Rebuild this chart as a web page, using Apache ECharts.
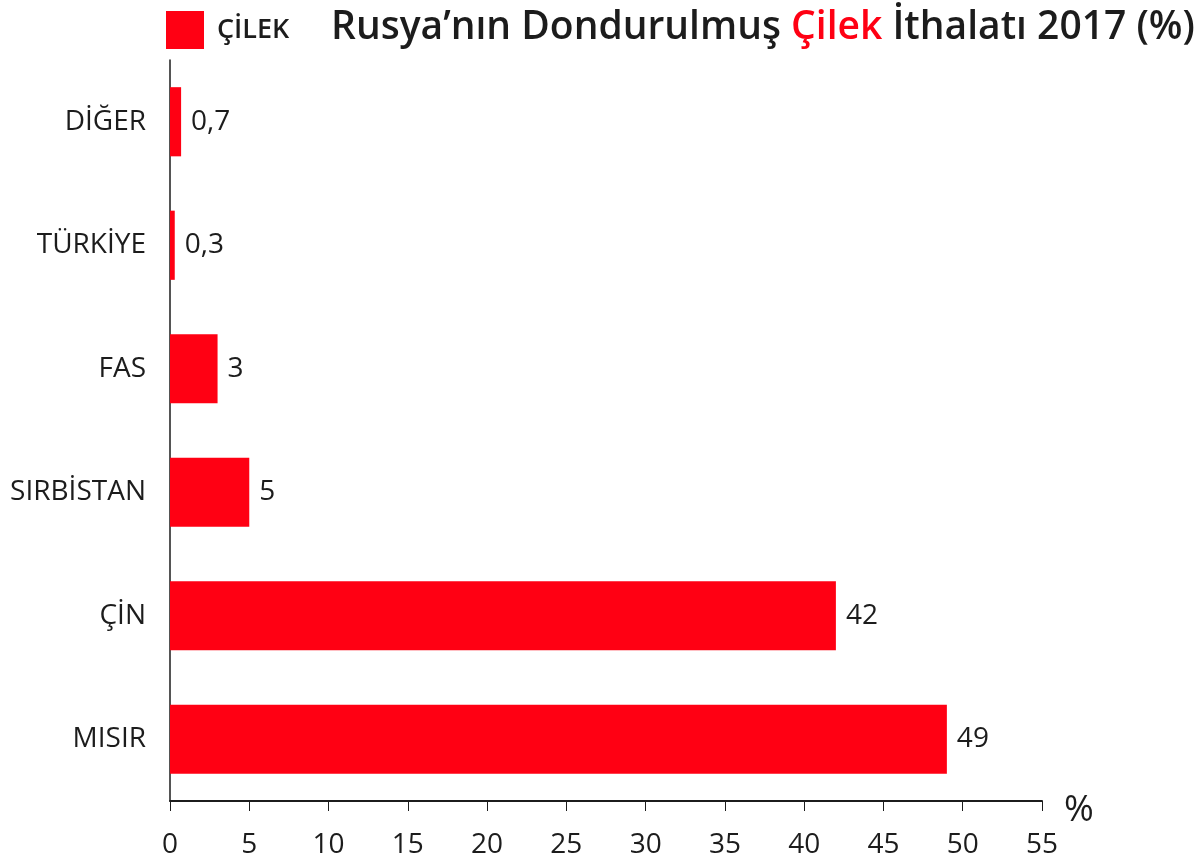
<!DOCTYPE html>
<html>
<head>
<meta charset="utf-8">
<script src="https://cdn.jsdelivr.net/npm/echarts@6/dist/echarts.min.js"></script>
<style>
	html, body { margin: 0; padding: 0; background: #fff; }
	#chart { width: 1197px; height: 859px; }
</style>
</head>
<body>
<div id="chart"></div>
<script>
	// ülkeler alttan üste
	var countries = ['MISIR', 'ÇİN', 'SIRBİSTAN', 'FAS', 'TÜRKİYE', 'DİĞER']
	var shares = [49, 42, 5, 3, 0.3, 0.7]
	var xTicks = { min: 0, max: 55, interval: 5 }

	var font = '"Open Sans", "Noto Sans", sans-serif'
	var ink = '#1c1c1c'
	var chart = echarts.init(document.getElementById('chart'))
	var option = {
		animation: false,
		textStyle: { fontFamily: font },
		title: {
			text: '{n|Rusya’nın Dondurulmuş }{r|Çilek}{n| İthalatı 2017 (%)}',
			left: 326,
			top: 3,
			textStyle: {
				rich: {
					n: { fontFamily: font, fontSize: 39, fontWeight: 600, color: ink },
					r: { fontFamily: font, fontSize: 39, fontWeight: 600, color: '#ff0013' }
				}
			}
		},
		legend: {
			data: [{ name: 'ÇİLEK', icon: 'rect' }],
			left: 161,
			top: 6,
			itemWidth: 38,
			itemHeight: 38,
			itemGap: 14,
			textStyle: { fontFamily: font, fontSize: 27, fontWeight: 600, color: ink, padding: [0, 0, 0, 8] }
		},
		grid: {
			left: 170,
			right: 155,
			top: 60,
			bottom: 57,
			containLabel: false
		},
		xAxis: {
			type: 'value',
			min: xTicks.min,
			max: xTicks.max,
			interval: xTicks.interval,
			name: '%',
			nameLocation: 'end',
			nameGap: 22,
			nameTextStyle: { fontFamily: font, fontSize: 36, fontWeight: 400, color: ink, verticalAlign: 'top', lineHeight: 20 },
			axisLine: { show: true, lineStyle: { color: ink, width: 2 } },
			axisTick: { show: true, length: 10, lineStyle: { color: ink, width: 1 } },
			axisLabel: { fontFamily: font, fontSize: 28, color: ink, margin: 30 },
			splitLine: { show: false }
		},
		yAxis: {
			type: 'category',
			data: countries,
			axisLine: { show: true, lineStyle: { color: ink, width: 1.5 } },
			axisTick: { show: false },
			axisLabel: { fontFamily: font, fontSize: 28, color: ink, margin: 24 }
		},
		series: [{
			name: 'ÇİLEK',
			type: 'bar',
			data: shares,
			barWidth: '56%',
			itemStyle: { color: '#ff0013' },
			label: {
				show: true,
				position: 'right',
				distance: 10,
				fontFamily: font,
				fontSize: 28,
				color: ink,
				formatter: function (p) { return String(p.value).replace('.', ',') }
			}
		}]
	}
	chart.setOption(option)
</script>
</body>
</html>
